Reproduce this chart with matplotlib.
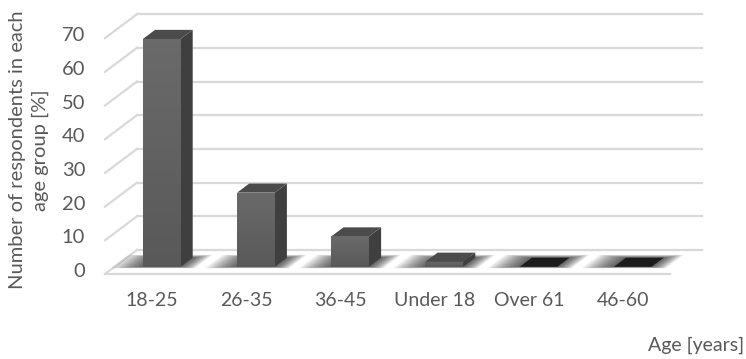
import numpy as np
import matplotlib
matplotlib.use("Agg")
from matplotlib import pyplot as plt
from matplotlib.patches import Polygon

plt.rcParams.update({"font.family": ["Lato", "DejaVu Sans"], "font.size": 14})

# data
categories = ["18-25", "26-35", "36-45", "Under 18", "Over 61", "46-60"]
values = [67.6, 22.0, 9.0, 1.5, 0.0, 0.0]
y_ticks = [0, 10, 20, 30, 40, 50, 60, 70]
y_title = "Number of respondents in each\nage group [%]"
x_title = "Age [years]"

# pseudo 3D layout (pixel space)
X0, Y0 = 105, 274      # front-left corner of floor
SLOT = 94.2            # width of one category
PX = 3.37              # pixels per percent
DX, DY = 32, -24       # depth vector
BAR_W = 0.4            # bar width in slots
D_FRONT, D_BACK = 0.3, 0.68

GRID = "#d9d9d9"
TXT = "#595959"


def proj(c, v, d):
    return (X0 + c * SLOT + d * DX, Y0 - v * PX + d * DY)


fig = plt.figure(figsize=(7.46, 3.59), dpi=100)
ax = fig.add_axes([0, 0, 1, 1])
ax.set_xlim(0, 746)
ax.set_ylim(359, 0)
ax.axis("off")

n = len(categories)

# walls
for v in y_ticks:
    a, b = proj(0, v, 1), proj(n, v, 1)
    ax.plot([a[0], b[0]], [a[1], b[1]], color=GRID, lw=1.6, zorder=1)
    a, b = proj(0, v, 0), proj(0, v, 1)
    ax.plot([a[0], b[0]], [a[1], b[1]], color=GRID, lw=1.6, zorder=1)
a, b = proj(0, 0, 0), proj(n, 0, 0)
ax.plot([a[0], b[0]], [a[1], b[1]], color=GRID, lw=1.6, zorder=1)

# tick labels
for v in y_ticks:
    x, y = proj(0, v, 0.1)
    ax.text(x - 23, y, str(v), ha="right", va="center", color=TXT, fontsize=14.5)

for i, (cat, val) in enumerate(zip(categories, values)):
    c0 = i + 0.5 - BAR_W / 2
    c1 = i + 0.5 + BAR_W / 2

    # soft shadow on the floor
    for t in np.linspace(0, 1, 12):
        sl = 0.02 + 0.3 * t
        sr = 0.01 + 0.16 * t
        sd = 0.12 * t
        shadow = [proj(c0 - sl, 0, D_FRONT - sd * 0.5), proj(c1 + sr, 0, D_FRONT - sd * 0.5),
                  proj(c1 + sr, 0, D_BACK + sd), proj(c0 - sl, 0, D_BACK + sd)]
        ax.add_patch(Polygon(shadow, closed=True, facecolor="black", alpha=0.07,
                             edgecolor="none", zorder=2))

    if val <= 0:
        top = [proj(c0, 0, D_FRONT), proj(c1, 0, D_FRONT),
               proj(c1, 0, D_BACK), proj(c0, 0, D_BACK)]
        ax.add_patch(Polygon(top, closed=True, facecolor="#1c1c1c",
                             edgecolor="none", zorder=3))
        continue

    front = [proj(c0, 0, D_FRONT), proj(c1, 0, D_FRONT),
             proj(c1, val, D_FRONT), proj(c0, val, D_FRONT)]
    side = [proj(c1, 0, D_FRONT), proj(c1, 0, D_BACK),
            proj(c1, val, D_BACK), proj(c1, val, D_FRONT)]
    top = [proj(c0, val, D_FRONT), proj(c1, val, D_FRONT),
           proj(c1, val, D_BACK), proj(c0, val, D_BACK)]

    ax.add_patch(Polygon(side, closed=True, facecolor="#3f3f3f", edgecolor="none", zorder=3))
    ax.add_patch(Polygon(top, closed=True, facecolor="#4b4b4b", edgecolor="none", zorder=3))
    fp = Polygon(front, closed=True, facecolor="none", edgecolor="none", zorder=4)
    ax.add_patch(fp)
    (fx0, fy1), (fx1, fy0) = front[0], front[2]
    grad = np.linspace(0, 1, 64).reshape(-1, 1)
    im = ax.imshow(grad, cmap=matplotlib.colors.LinearSegmentedColormap.from_list(
        "g", ["#6a6a6a", "#595959"]), extent=(fx0, fx1, fy1, fy0), aspect="auto",
        origin="upper", zorder=4)
    im.set_clip_path(fp)

ax.set_xlim(0, 746)
ax.set_ylim(359, 0)

# category labels
for i, cat in enumerate(categories):
    x, _ = proj(i + 0.5, 0, 0)
    ax.text(x, 300, cat, ha="center", va="center", color=TXT, fontsize=14)

ax.text(744, 345, x_title, ha="right", va="center", color=TXT, fontsize=14)
ax.text(29, 150, y_title, ha="center", va="center", rotation=90, color=TXT,
        fontsize=14.5, multialignment="center", linespacing=1.35)

fig.savefig("out.png", dpi=100)
